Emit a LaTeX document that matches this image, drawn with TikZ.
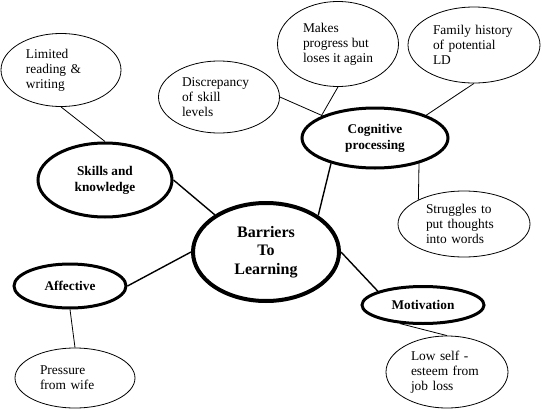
\documentclass[tikz,border=0pt]{standalone}
\usepackage{fontspec}
\setmainfont{Liberation Serif}
\usetikzlibrary{shapes.geometric}
\newcommand\leaftext{\fontsize{13.4}{15}\selectfont\hyphenpenalty=10000}
\newcommand\themetext{\fontsize{13.3}{16}\selectfont\bfseries}
\newcommand\coretext{\fontsize{16}{18.5}\selectfont\bfseries}
\tikzset{
  leaf/.style={ellipse,draw,line width=0.8pt,inner sep=0pt,align=left,font=\leaftext},
  theme/.style={ellipse,draw,line width=3pt,inner sep=0pt,align=center,font=\themetext},
  core/.style={ellipse,draw,line width=4pt,inner sep=0pt,align=center,font=\coretext},
  link/.style={line width=0.8pt},
  spoke/.style={line width=1.4pt}
}

\begin{document}
\begin{tikzpicture}[x=1pt,y=-1pt]
  \useasboundingbox (0,0) rectangle (542,410);
  % centre
  \node[core,minimum width=146pt,minimum height=98pt] (bar) at (266,252) {Barriers\\To\\Learning};
  % themes
  \node[theme,minimum width=134pt,minimum height=74pt] (skl) at (105,180) {Skills and\\knowledge};
  \node[theme,minimum width=146pt,minimum height=60pt] (cog) at (375,138) {Cognitive\\processing};
  \node[theme,minimum width=112pt,minimum height=44pt] (aff) at (70,286) {Affective};
  \node[theme,minimum width=122pt,minimum height=37pt] (mot) at (423,305) {Motivation};
  % leaves
  \node[leaf,minimum width=120pt,minimum height=73pt,text width=70pt] (lim) at (61,70) {Limited\\reading \&\\writing};
  \node[leaf,minimum width=121pt,minimum height=72pt,text width=74pt] (dis) at (219,97) {Discrepancy\\of skill\\levels};
  \node[leaf,minimum width=121pt,minimum height=85pt] (mkp) at (338,44) {Makes\\progress but\\loses it again};
  \node[leaf,minimum width=132pt,minimum height=76pt,text width=82pt] (fam) at (474,45) {Family history\\of potential\\LD};
  \node[leaf,minimum width=132pt,minimum height=66pt,text width=76pt] (str) at (464,224) {Struggles to\\put thoughts\\into words};
  \node[leaf,minimum width=120pt,minimum height=60pt,text width=70pt] (prs) at (75,378) {Pressure\\from wife};
  \node[leaf,minimum width=122pt,minimum height=72pt,text width=72pt] (low) at (447,372) {Low self -\\esteem from\\job loss};

  \draw[spoke] (skl.east) -- (bar.144);
  \draw[spoke] (bar.180) -- (aff.east);
  \draw[spoke] (bar.35) -- (cog.210);
  \draw[spoke] (bar.0) -- (mot.163);
  \draw[link] (lim.south) -- (skl.north);
  \draw[link] (aff.south) -- (prs.north);
  \draw[link] (mot.219) -- (low.north);
  \draw[link] (dis.east) -- (cog.157);
  \draw[link] (mkp.south) -- (cog.158);
  \draw[link] (fam.south) -- (cog.24);
  \draw[link] (cog.-30) -- (str.152);
\end{tikzpicture}
\end{document}
